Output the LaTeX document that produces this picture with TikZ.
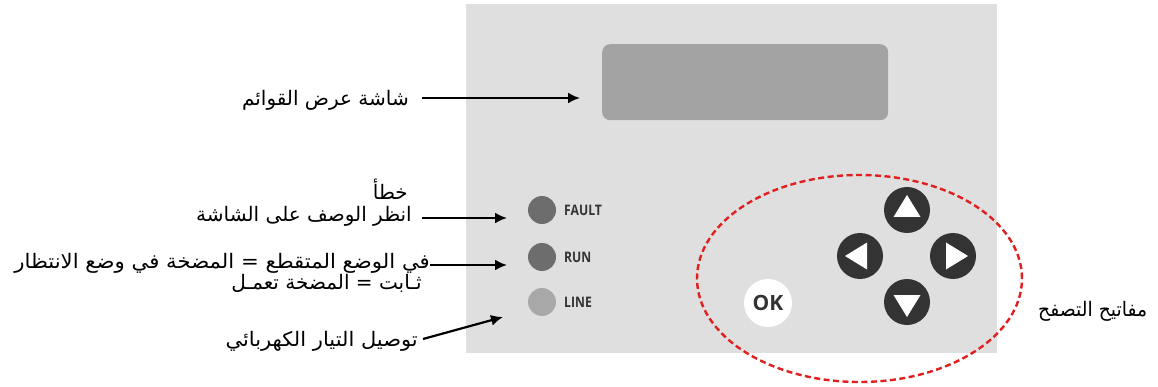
\documentclass[tikz,border=0pt]{standalone}
\usepackage{fontspec}
\usepackage{graphicx}
\setmainfont{Liberation Sans}
\newfontfamily\arabicfont[Script=Arabic]{DejaVu Sans}
\newfontfamily\ledfont{Open Sans}
\TeXXeTstate=1
\usetikzlibrary{arrows.meta,shapes.geometric}
\definecolor{panelgray}{HTML}{DFDFDF}
\definecolor{screengray}{HTML}{A3A3A3}
\definecolor{leddark}{HTML}{6D6D6D}
\definecolor{ledlight}{HTML}{A8A8A8}
\definecolor{btngray}{HTML}{333333}
\definecolor{navred}{HTML}{E0201E}
\begin{document}
\begin{tikzpicture}[x=1pt,y=-1pt,
  lbl/.style={font=\arabicfont\fontsize{20}{22}\selectfont, inner sep=0pt, anchor=base east},
  arr/.style={-{Latex[length=12pt,width=11pt]}, line width=2.2pt},
  led/.style={circle, minimum size=28pt, inner sep=0pt},
  ledtxt/.style={font=\ledfont\bfseries\fontsize{14.5}{14.5}\selectfont, text=btngray, inner sep=0pt, anchor=west},
  btn/.style={circle, fill=btngray, minimum size=46pt, inner sep=0pt},
  tri/.style={fill=white}
]
\useasboundingbox (0,0) rectangle (1158,387);
% panel and screen
\node[fill=panelgray, minimum width=531pt, minimum height=349pt, inner sep=0pt, anchor=north west] (panel) at (466,4) {};
\node[fill=screengray, rounded corners=8pt, minimum width=286pt, minimum height=76pt, inner sep=0pt, anchor=north west] (screen) at (602,44) {};
% LEDs
\node[led, fill=leddark] (fault) at (542,210) {};
\node[led, fill=leddark] (run) at (542,257) {};
\node[led, fill=ledlight] (line) at (542,302) {};
\node[ledtxt] (faulttxt) at (564,210) {\scalebox{0.84}[1]{FAULT}};
\node[ledtxt] (runtxt) at (564,257) {\scalebox{0.84}[1]{RUN}};
\node[ledtxt] (linetxt) at (564,302) {\scalebox{0.84}[1]{LINE}};
% navigation buttons
\node[btn] (up) at (907,210) {};
\node[btn] (left) at (860,256) {};
\node[btn] (right) at (953,256) {};
\node[btn] (down) at (907,302) {};
\fill[tri, shift={(up)}] (0,-15) -- (13.5,7) -- (-13.5,7) -- cycle;
\fill[tri, shift={(down)}] (0,15) -- (13.5,-7) -- (-13.5,-7) -- cycle;
\fill[tri, shift={(left)}] (-15,0) -- (7,-13.5) -- (7,13.5) -- cycle;
\fill[tri, shift={(right)}] (15,0) -- (-7,-13.5) -- (-7,13.5) -- cycle;
\node[circle, fill=white, minimum size=48pt, inner sep=0pt, font=\ledfont\bfseries\fontsize{21}{21}\selectfont, text=btngray] (ok) at (768,303) {OK};
% dashed ellipse
\node[ellipse, draw=navred, dashed, dash pattern=on 6pt off 3.5pt, line width=2.4pt, minimum width=325pt, minimum height=207pt, inner sep=0pt] (nav) at (859.5,278.5) {};
% labels
\node[lbl] (l1) at (409,106) {\beginR شاشة عرض القوائم\endR};
\node[lbl] (l2a) at (408,200) {\beginR خطأ\endR};
\node[lbl] (l2b) at (412,222) {\beginR انظر الوصف على الشاشة\endR};
\node[lbl] (l3a) at (430,268) {\scalebox{1.06}[1]{\beginR في الوضع المتقطع  = المضخة في وضع الانتظار\endR}};
\node[lbl] (l3b) at (422,289) {\beginR ثـابت = المضخة تعمـل\endR};
\node[lbl] (l4) at (418,346) {\scalebox{1.05}[1]{\beginR توصيل التيار الكهربائي\endR}};
\node[lbl, anchor=base west] (l5) at (1038,316) {\scalebox{0.94}[1]{\beginR مفاتيح التصفح\endR}};
% arrows
\coordinate (a1s) at (422,98);  \coordinate (a1e) at (580,98);
\coordinate (a2s) at (422,218); \coordinate (a2e) at (507,218);
\coordinate (a3s) at (430,265); \coordinate (a3e) at (507,265);
\coordinate (a4s) at (423,339); \coordinate (a4e) at (503,317);
\draw[arr] (a1s) -- (a1e);
\draw[arr] (a2s) -- (a2e);
\draw[arr] (a3s) -- (a3e);
\draw[arr] (a4s) -- (a4e);
\end{tikzpicture}
\end{document}
